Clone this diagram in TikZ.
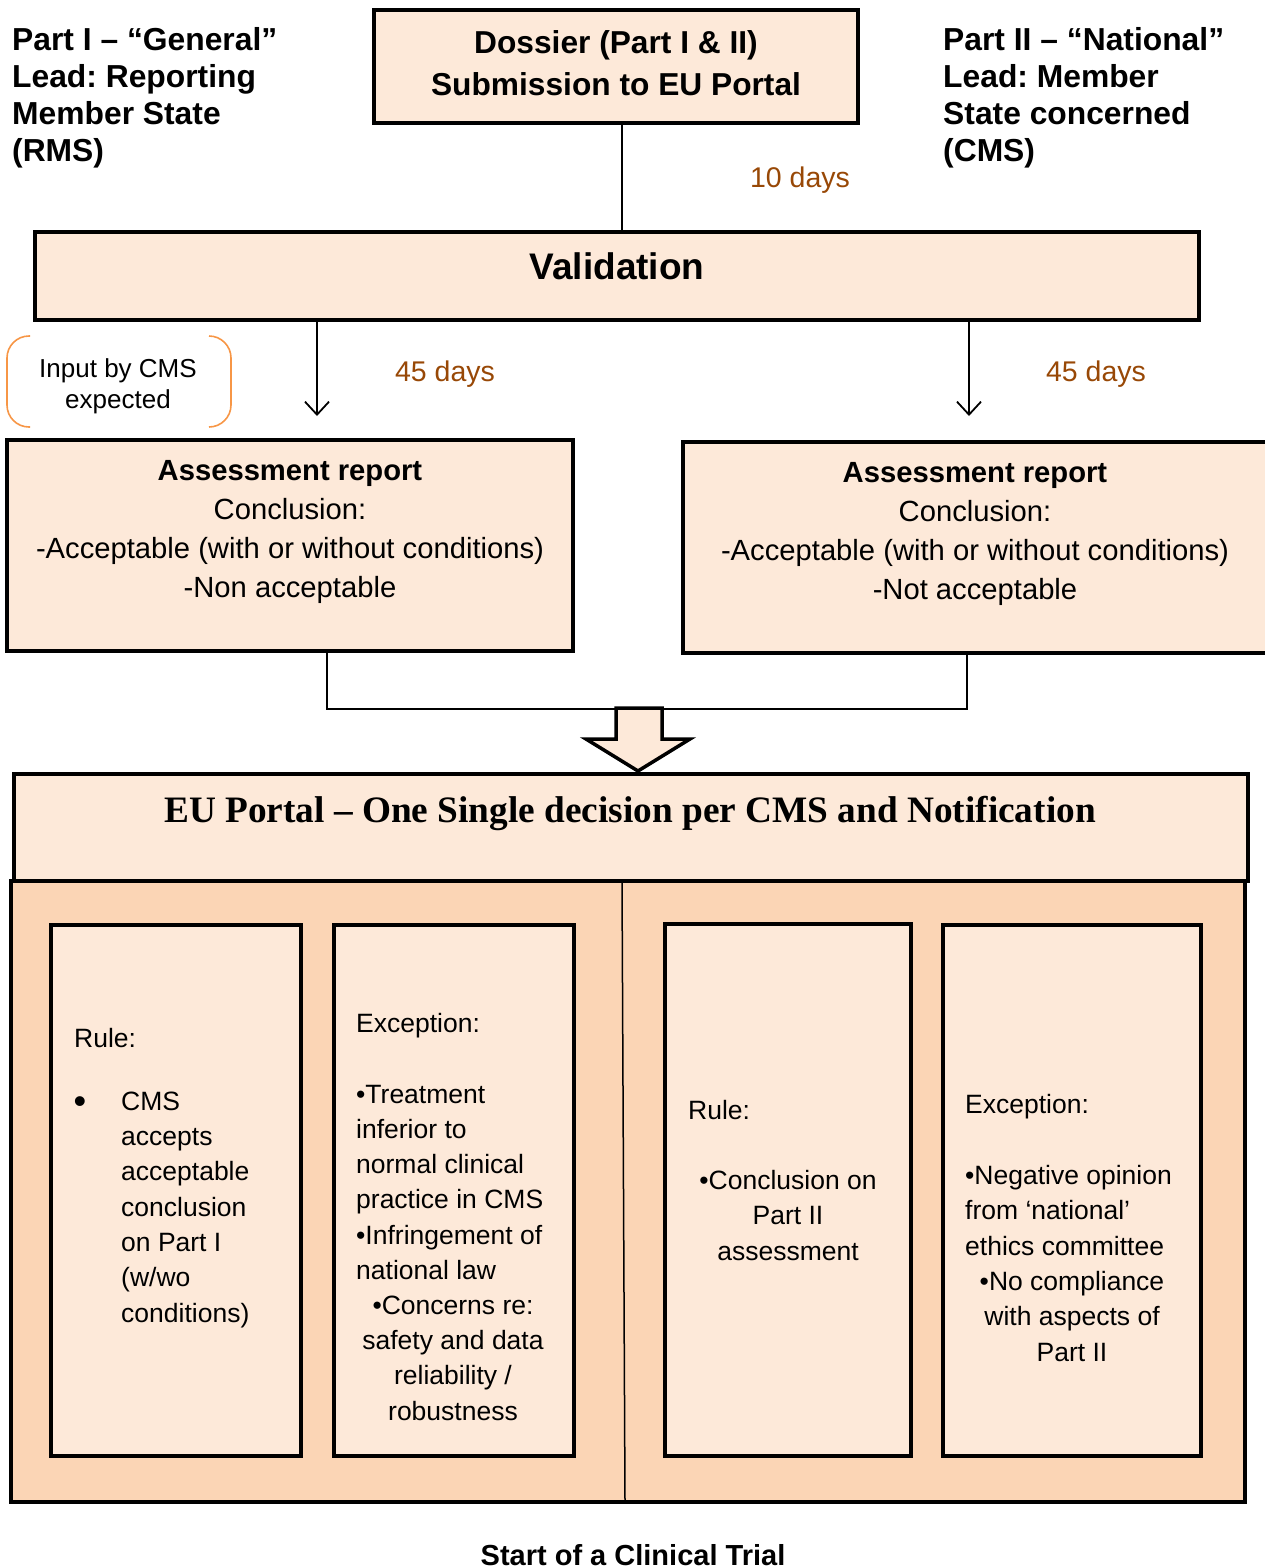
\documentclass[tikz,border=0pt]{standalone}
\usepackage{fontspec}
\setmainfont{Liberation Sans}
\newfontfamily\timesf{Liberation Serif}
\usetikzlibrary{arrows.meta}
\definecolor{lightp}{HTML}{FDE9D9}
\definecolor{midp}{HTML}{FBD5B5}
\definecolor{brownt}{HTML}{984806}
\definecolor{orangeb}{HTML}{F79646}
\frenchspacing
\begin{document}
\begin{tikzpicture}[x=1pt,y=-1pt,
  box/.style={draw, line width=4pt, fill=lightp, inner sep=0pt, outer sep=0pt, anchor=north west},
  hdr/.style={font=\fontsize{31.8}{36.7}\selectfont\bfseries, align=left, anchor=base west, inner sep=0pt},
  days/.style={font=\fontsize{28.5}{34}\selectfont, text=brownt, anchor=base, inner sep=0pt},
  atxt/.style={font=\fontsize{29.2}{39}\selectfont, align=center, anchor=base, inner sep=0pt},
  btxt/.style={font=\fontsize{26.5}{35.3}\selectfont, align=left, anchor=base west, inner sep=0pt},
  ctxt/.style={font=\fontsize{26.5}{35.3}\selectfont, align=center, anchor=base, inner sep=0pt},
  thin/.style={line width=1.5pt},
  arr/.style={line width=1.8pt, -{Straight Barb[length=13pt,width=24pt,line width=1.8pt]}}
]
\useasboundingbox (0,0) rectangle (1264,1566);

% headers (anchor base = last line)
\node[hdr] (h1) at (12,161) {Part I – “General”\\Lead: Reporting\\Member State\\(RMS)};
\node[hdr] (h2) at (943,161) {Part II – “National”\\Lead: Member\\State concerned\\(CMS)};

% dossier
\node[box, minimum width=484pt, minimum height=113pt] (dossier) at (374,10) {};
\node[font=\fontsize{31.7}{42}\selectfont\bfseries, align=center, anchor=base, inner sep=0pt] (dossiert) at (616,95) {Dossier (Part I \& II)\\Submission to EU Portal};

% validation
\node[box, minimum width=1164pt, minimum height=88pt] (validation) at (35,232) {};
\node[font=\fontsize{37}{44}\selectfont\bfseries, anchor=base, inner sep=0pt] (validt) at (617,279) {Validation};

\coordinate (c1) at (622,0);
\draw[thin] (dossier.south -| c1) -- (validation.north -| c1);
\node[days] (d10) at (800,187) {10 days};

% arrows to assessments
\coordinate (a1) at (317,416);
\coordinate (a2) at (969,416);
\draw[arr] (validation.south -| a1) -- (a1);
\draw[arr] (validation.south -| a2) -- (a2);
\node[days] (d45a) at (445,381) {45 days};
\node[days] (d45b) at (1096,381) {45 days};

% input by CMS bracket
\draw[orangeb, line width=1.6pt, rounded corners=22pt] (30,336) -- (7,336) -- (7,427) -- (30,427);
\draw[orangeb, line width=1.6pt, rounded corners=22pt] (209,336) -- (231,336) -- (231,427) -- (209,427);
\node[font=\fontsize{26}{31}\selectfont, align=center, anchor=base, inner sep=0pt] (input) at (118,408) {Input by CMS\\expected};

% assessment reports
\node[box, minimum width=566pt, minimum height=211pt] (arl) at (7,440) {};
\node[atxt] (arlt) at (290,597) {\textbf{Assessment report}\\Conclusion:\\-Acceptable (with or without conditions)\\-Non acceptable};
\node[box, minimum width=590pt, minimum height=211pt] (arr) at (683,442) {};
\node[atxt] (arrt) at (975,599) {\textbf{Assessment report}\\Conclusion:\\-Acceptable (with or without conditions)\\-Not acceptable};

% joining connector
\coordinate (jl) at (327,709);
\coordinate (jr) at (967,709);
\draw[thin] (arl.south -| jl) -- (jl) -- (jr) -- (arr.south -| jr);

% EU portal
\node[box, minimum width=1234pt, minimum height=107pt] (eu) at (14,774) {};
\node[font=\fontsize{37.3}{44}\selectfont\timesf\bfseries, anchor=base, inner sep=0pt] (eut) at (630,822) {EU Portal – One Single decision per CMS and Notification};

% block arrow
\draw[line width=3.5pt, fill=lightp, line join=miter] (616,708) -- (662,708) -- (662,739) -- (690,739) -- (638,771) -- (586,739) -- (616,739) -- cycle;

% outer box
\node[box, fill=midp, minimum width=1234pt, minimum height=621pt] (outer) at (11,881) {};
\coordinate (v1) at (622,883);
\coordinate (v2) at (625,1500);
\draw[thin] (outer.north -| v1) -- (v2);

% inner boxes
\node[box, minimum width=250pt, minimum height=531pt] (b1) at (51,925) {};
\node[box, minimum width=240pt, minimum height=531pt] (b2) at (334,925) {};
\node[box, minimum width=246pt, minimum height=532pt] (b3) at (665,924) {};
\node[box, minimum width=258pt, minimum height=531pt] (b4) at (943,925) {};

% box 1
\node[btxt] (b1r) at (74,1047) {Rule:};
\node[font=\fontsize{36}{40}\selectfont, anchor=base, inner sep=0pt] (b1b) at (80,1113) {•};
\node[btxt] (b1t) at (121,1322) {CMS\\accepts\\acceptable\\conclusion\\on Part I\\(w/wo\\conditions)};

% box 2
\node[btxt] (b2r) at (356,1032) {Exception:};
\node[btxt] (b2t) at (356,1279.5) {•Treatment\\inferior to\\normal clinical\\practice in CMS\\•Infringement of\\national law};
\node[ctxt] (b2c) at (453,1420) {•Concerns re:\\safety and data\\reliability /\\robustness};

% box 3
\node[btxt] (b3r) at (688,1119) {Rule:};
\node[ctxt] (b3c) at (788,1260) {•Conclusion on\\Part II\\assessment};

% box 4
\node[btxt] (b4r) at (965,1113) {Exception:};
\node[btxt] (b4t) at (965,1255) {•Negative opinion\\from ‘national’\\ethics committee};
\node[ctxt] (b4c) at (1072,1361) {•No compliance\\with aspects of\\Part II};

% footer
\node[font=\fontsize{29}{34}\selectfont\bfseries, anchor=base, inner sep=0pt] (start) at (633,1565) {Start of a Clinical Trial};
\end{tikzpicture}
\end{document}
